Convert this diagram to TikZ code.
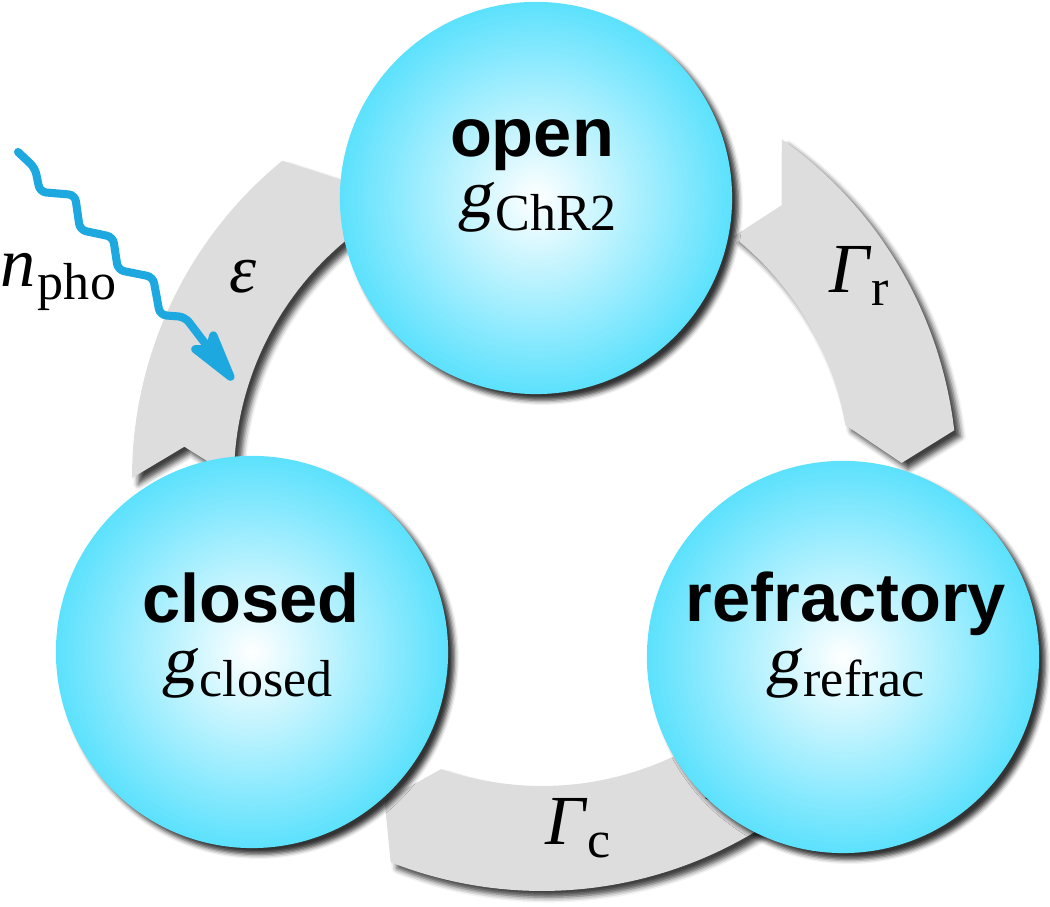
\documentclass[tikz,border=0pt]{standalone}
\usepackage{fontspec}
\setmainfont{Liberation Serif}
\newfontfamily\hv{Liberation Sans}
\newfontfamily\slserif{Liberation Serif}[FakeSlant=0.17]
\usetikzlibrary{arrows.meta,shadows.blur}
\definecolor{ballcyan}{RGB}{92,225,253}
\definecolor{bandgray}{RGB}{221,221,221}
\definecolor{photoncol}{RGB}{30,168,224}
\pgfdeclareradialshading{ballshade}{\pgfpoint{0bp}{0bp}}{color(0bp)=(white); color(25bp)=(ballcyan); color(50bp)=(ballcyan)}
\newcommand{\gsubx}[1]{{\slserif g}\kern1.2pt{\fontsize{14.8}{16}\selectfont\raisebox{-3.5pt}{#1}}}
\newcommand{\symsub}[2]{{\itshape #1}\kern0.6pt{\fontsize{14.8}{16}\selectfont\raisebox{-3.5pt}{#2}}}
\tikzset{
  ball/.style={circle, minimum size=3.92cm, inner sep=0pt, shading=ballshade,
    blur shadow={shadow xshift=1.8pt, shadow yshift=-1.8pt, shadow blur radius=1.3pt, shadow opacity=80}},
  band/.style={fill=bandgray,
    blur shadow={shadow xshift=1.8pt, shadow yshift=-1.8pt, shadow blur radius=1.5pt, shadow opacity=75}},
  word/.style={font=\hv\bfseries\fontsize{19.5}{22}\selectfont, inner sep=0pt, anchor=base},
  glabel/.style={font=\fontsize{19.5}{22}\selectfont, inner sep=0pt, anchor=base},
  rate/.style={font=\fontsize{20}{22}\selectfont, inner sep=0pt, anchor=base west},
  photonline/.style={draw=photoncol, line width=2.3pt, line cap=round, rounded corners=1.8pt,
    -{Stealth[length=19.5pt, width=10pt, inset=3.5pt, round]}},
}
\begin{document}
\begin{tikzpicture}[x=0.01cm, y=0.01cm]
\useasboundingbox (0,0) rectangle (1050,907);
\coordinate (O) at (542,429);

% transition bands
\begin{scope}[shift={(O)}]
  % epsilon: closed -> open
  \path[band] (180:410) arc[start angle=180, end angle=129.3, radius=410]
    -- (124:360) -- (129.3:308) arc[start angle=129.3, end angle=180, radius=308]
    -- (175:359) -- cycle;
  % Gamma_r: open -> refractory
  \path[band] (54.7:415) arc[start angle=54.7, end angle=6.6, radius=415]
    -- (2.4:360) -- (9.9:308) arc[start angle=9.9, end angle=51.6, radius=308]
    -- (48.7:363) -- cycle;
  % Gamma_c: refractory -> closed
  \path[band] (-57:413) arc[start angle=-57, end angle=-111.5, radius=413]
    -- (-116:359) -- (-109.1:308) arc[start angle=-109.1, end angle=-57, radius=308]
    -- (-63:360) -- cycle;
\end{scope}

% states
\node[ball] (open) at (536,709) {};
\node[ball] (closed) at (252,255) {};
\node[ball] (refr) at (843,250) {};

\node[word] (openT) at (532,750) {open};
\node[glabel] (openG) at (537,689) {\gsubx{ChR2}};
\node[word] (closedT) at (251,284) {closed};
\node[glabel] (closedG) at (247,223) {\gsubx{closed}};
\node[word] (refrT) at (846,285) {refractory};
\node[glabel] (refrG) at (845,223) {\gsubx{refrac}};

% rate labels
\node[glabel] (eps) at (243,614) {\itshape ε};
\node[rate] (gr) at (829,614) {\symsub{Γ}{r}};
\node[rate] (gc) at (545,62) {\symsub{Γ}{c}};
\node[rate] (npho) at (0,620) {\symsub{n}{pho}};

% photon
\coordinate (phstart) at (18,755);
\coordinate (phtip) at (233,527);
\draw[photonline] (phstart) -- (35,739) -- (40,715) -- (75,712) -- (80,677)
  -- (113,670) -- (118,637) -- (153,630) -- (160,592) -- (185,590) -- (phtip);
\end{tikzpicture}
\end{document}
